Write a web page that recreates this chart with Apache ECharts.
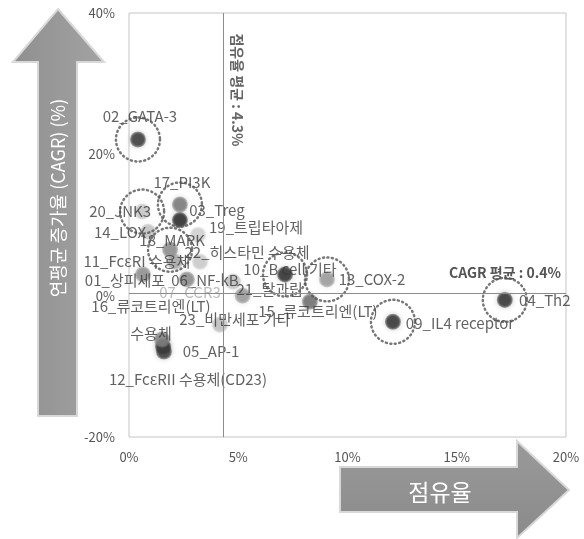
<!DOCTYPE html>
<html>
<head>
<meta charset="utf-8">
<script src="https://cdn.jsdelivr.net/npm/echarts@6/dist/echarts.min.js"></script>
<style>
  html, body { margin: 0; padding: 0; background: #fff; }
  #main { width: 584px; height: 539px; }
</style>
</head>
<body>
<div id="main"></div>
<script>
// 품목명 / 점유율(%) / 연평균 증가율 CAGR(%)
var names = ['01_상피세포', '02_GATA-3', '03_Treg', '04_Th2', '05_AP-1', '06_NF-kB', '07_CCR3',
  '09_IL4 receptor', '10_B cell 기타', '11_FcεRI 수용체', '12_FcεRII 수용체(CD23)', '13_COX-2',
  '14_LOX', '15_류코트리엔(LT)', '16_류코트리엔(LT)\n수용체', '17_PI3K', '18_MARK', '19_트립타아제',
  '20_JNK3', '21_탈과립', '22_히스타민 수용체', '23_비만세포 기타'];
var share = [0.64, 0.41, 2.33, 17.2, 1.56, 2.65, 4.76, 12.08, 7.14, 2.1, 1.6, 9.06,
  0.87, 8.28, 1.51, 2.33, 1.88, 3.16, 0.6, 5.2, 3.25, 4.16];
var cagr = [3.0, 22.1, 10.7, -0.6, -7.2, 2.3, 2.0, -3.7, 3.0, 4.8, -7.9, 2.3,
  9.05, -0.85, -6.2, 12.9, 6.5, 8.6, 11.9, 0.0, 4.8, -4.1];
// 점선 원으로 강조된 항목
var circled = ['02_GATA-3', '17_PI3K', '20_JNK3', '18_MARK', '10_B cell 기타', '13_COX-2', '09_IL4 receptor', '04_Th2'];
var shareAvg = 4.3;
var cagrAvg = 0.4;
var xTicks = [0, 5, 10, 15, 20];
var yTicks = [-20, 0, 20, 40];

// 점 색상 (진한/중간/연한)
var tone = {
  '01_상피세포': '#8e8e8e', '02_GATA-3': '#3a3a3a', '03_Treg': '#2b2b2b', '04_Th2': '#333',
  '05_AP-1': '#222', '06_NF-kB': '#8a8a8a', '07_CCR3': '#bdbdbd', '09_IL4 receptor': '#333',
  '10_B cell 기타': '#2f2f2f', '11_FcεRI 수용체': '#a5a5a5', '12_FcεRII 수용체(CD23)': '#3a3a3a',
  '13_COX-2': '#999', '14_LOX': '#c0c0c0', '15_류코트리엔(LT)': '#6f6f6f',
  '16_류코트리엔(LT)\n수용체': '#808080', '17_PI3K': '#777', '18_MARK': '#8a8a8a',
  '19_트립타아제': '#cfcfcf', '20_JNK3': '#c4c4c4', '21_탈과립': '#999',
  '22_히스타민 수용체': '#c8c8c8', '23_비만세포 기타': '#bdbdbd'
};
// 라벨 위치 (점 중심 기준 오프셋, px)
var labelOffset = {
  '01_상피세포': [-18, 6], '02_GATA-3': [2, -23], '03_Treg': [37, -10], '04_Th2': [40, 0],
  '05_AP-1': [48, 5], '06_NF-kB': [18, 1], '07_CCR3': [-43, 11], '09_IL4 receptor': [67, 1],
  '10_B cell 기타': [5, -5], '11_FcεRI 수용체': [-38, 0], '12_FcεRII 수용체(CD23)': [24, 28],
  '13_COX-2': [45, 0], '14_LOX': [-28, 1], '15_류코트리엔(LT)': [8, 10],
  '16_류코트리엔(LT)\n수용체': [-11, -20], '17_PI3K': [2, -22], '18_MARK': [2, -9],
  '19_트립타아제': [58, -8], '20_JNK3': [-22, 0], '21_탈과립': [27, -6],
  '22_히스타민 수용체': [47, -9], '23_비만세포 기타': [15, -5]
};

var font = '"Noto Sans CJK KR", "Noto Sans", sans-serif';
var dotSize = 16;

var points = names.map(function (n, i) {
  var c = tone[n];
  var off = labelOffset[n];
  return {
    name: n,
    value: [share[i], cagr[i]],
    itemStyle: {
      color: new echarts.graphic.RadialGradient(0.5, 0.5, 0.5, [
        { offset: 0, color: c },
        { offset: 0.7, color: c },
        { offset: 1, color: echarts.color.modifyAlpha(c, 0.5) }
      ]),
      shadowBlur: 5,
      shadowColor: echarts.color.modifyAlpha(c, 0.6)
    },
    label: {
      position: [dotSize / 2 + off[0], dotSize / 2 + off[1]],
      color: n === '07_CCR3' ? '#aaa' : '#3a3a3a'
    }
  };
});

var rings = [];
names.forEach(function (n, i) {
  if (circled.indexOf(n) >= 0) rings.push([share[i], cagr[i]]);
});

var chart = echarts.init(document.getElementById('main'));

function upArrow() {
  return {
    type: 'polygon',
    shape: { points: [[58, 9], [104, 62], [77, 62], [77, 416], [38, 416], [38, 62], [13, 62]] },
    style: {
      fill: new echarts.graphic.LinearGradient(0, 0, 1, 0, [
        { offset: 0, color: '#8f8f8f' }, { offset: 1, color: '#a3a3a3' }
      ]),
      stroke: '#d8d8d8', lineWidth: 2
    },
    z: 1
  };
}
function rightArrow() {
  return {
    type: 'polygon',
    shape: { points: [[340, 467], [517, 467], [517, 441], [569, 490], [517, 538], [517, 512], [340, 512]] },
    style: {
      fill: new echarts.graphic.LinearGradient(0, 0, 0, 1, [
        { offset: 0, color: '#9a9a9a' }, { offset: 1, color: '#8a8a8a' }
      ]),
      stroke: '#d8d8d8', lineWidth: 2
    },
    z: 1
  };
}

var option = {
  animation: false,
  backgroundColor: '#fff',
  grid: {
    left: 129, right: 18, top: 13, bottom: 102,
    show: true, borderColor: '#c4c4c4', borderWidth: 1
  },
  xAxis: {
    type: 'value', min: xTicks[0], max: xTicks[xTicks.length - 1], interval: 5,
    axisLine: { show: false }, axisTick: { show: false }, splitLine: { show: false },
    axisLabel: { formatter: '{value}%', color: '#555', fontSize: 13, fontFamily: font, margin: 14 }
  },
  yAxis: {
    type: 'value', min: yTicks[0], max: yTicks[yTicks.length - 1], interval: 20,
    axisLine: { show: false }, axisTick: { show: false }, splitLine: { show: false },
    axisLabel: { formatter: '{value}%', color: '#555', fontSize: 13, fontFamily: font, margin: 14 }
  },
  graphic: [
    upArrow(),
    {
      type: 'text', x: 58, y: 198, rotation: Math.PI / 2,
      style: {
        text: '연평균 증가율 (CAGR) (%)', fill: '#fff', font: '18px ' + font,
        textAlign: 'center', textVerticalAlign: 'middle'
      },
      z: 2
    },
    rightArrow(),
    {
      type: 'text', x: 440, y: 492,
      style: {
        text: '점유율', fill: '#fff', font: '23px ' + font,
        textAlign: 'center', textVerticalAlign: 'middle'
      },
      z: 2
    },
    {
      type: 'text', x: 237, y: 90, rotation: -Math.PI / 2,
      style: {
        text: '점유율 평균 : ' + shareAvg + '%', fill: '#666', font: 'bold 14px ' + font,
        textAlign: 'center', textVerticalAlign: 'middle'
      },
      z: 5
    },
    {
      type: 'text', x: 561, y: 273,
      style: {
        text: 'CAGR 평균 : ' + cagrAvg + '%', fill: '#555', font: 'bold 14px ' + font,
        textAlign: 'right', textVerticalAlign: 'middle'
      },
      z: 5
    }
  ],
  series: [
    {
      type: 'scatter',
      data: [],
      markLine: {
        silent: true, symbol: 'none', label: { show: false },
        lineStyle: { color: '#8c8c8c', width: 1, type: 'solid' },
        data: [{ xAxis: shareAvg }, { yAxis: cagrAvg }]
      }
    },
    {
      type: 'scatter',
      symbolSize: dotSize,
      data: points,
      z: 3,
      label: {
        show: true, fontSize: 15, fontFamily: font,
        align: 'center', verticalAlign: 'middle', lineHeight: 27,
        formatter: function (p) { return p.name; }
      }
    },
    {
      type: 'scatter',
      symbolSize: 44,
      data: rings,
      z: 4,
      silent: true,
      itemStyle: {
        color: 'rgba(0,0,0,0)', borderColor: '#555', borderWidth: 2.5,
        borderType: [1, 3.5], borderCap: 'round'
      }
    }
  ]
};
chart.setOption(option);
</script>
</body>
</html>
